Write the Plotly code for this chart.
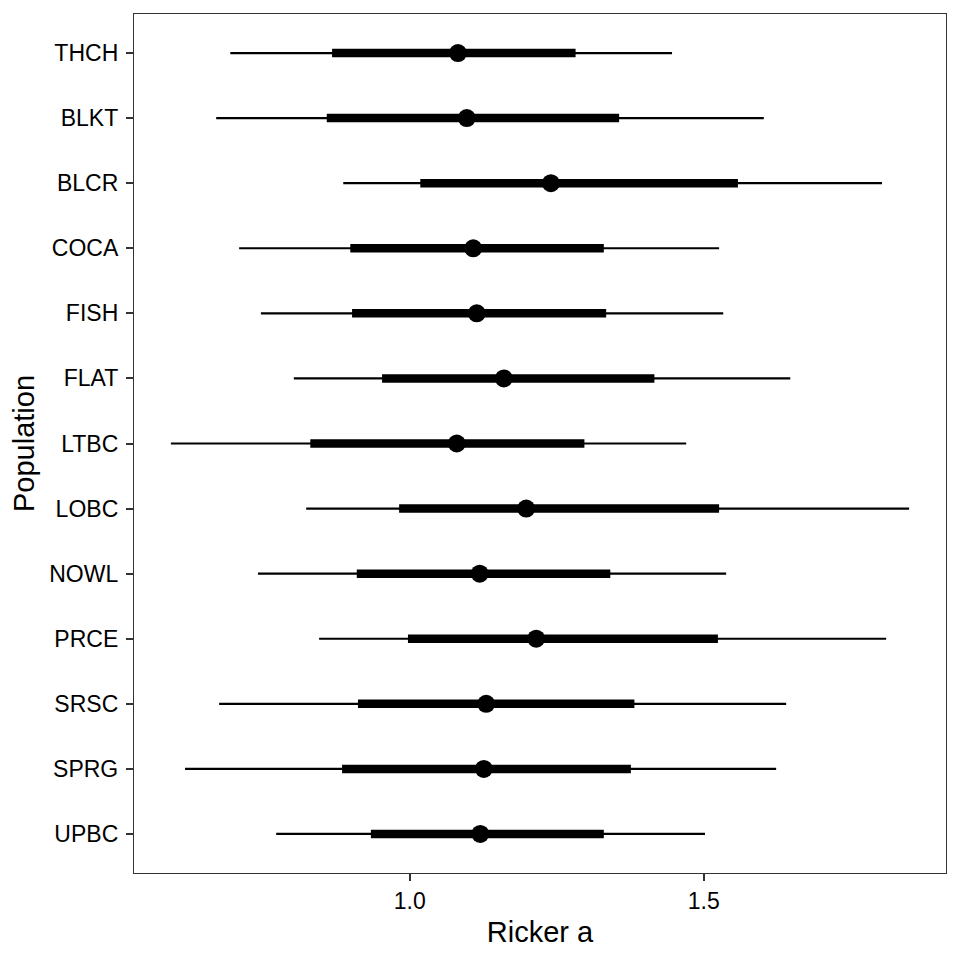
import plotly.graph_objects as go

populations = ["THCH", "BLKT", "BLCR", "COCA", "FISH", "FLAT", "LTBC",
               "LOBC", "NOWL", "PRCE", "SRSC", "SPRG", "UPBC"]
median = [1.082, 1.097, 1.240, 1.108, 1.114, 1.160, 1.080,
          1.198, 1.119, 1.215, 1.130, 1.126, 1.120]
inner_lo = [0.868, 0.859, 1.018, 0.899, 0.902, 0.953, 0.831,
            0.982, 0.910, 0.997, 0.912, 0.885, 0.934]
inner_hi = [1.282, 1.356, 1.558, 1.330, 1.334, 1.416, 1.297,
            1.526, 1.341, 1.524, 1.382, 1.376, 1.330]
outer_lo = [0.695, 0.671, 0.887, 0.710, 0.747, 0.803, 0.594,
            0.824, 0.742, 0.846, 0.676, 0.618, 0.773]
outer_hi = [1.446, 1.602, 1.803, 1.526, 1.533, 1.647, 1.470,
            1.849, 1.538, 1.810, 1.640, 1.623, 1.502]
x_ticks = [1.0, 1.5]
x_tick_labels = ["1.0", "1.5"]


def segs(lo, hi, cats):
    xs, ys = [], []
    for a, b, c in zip(lo, hi, cats):
        xs += [a, b, None]
        ys += [c, c, None]
    return xs, ys


fig = go.Figure()
xs, ys = segs(outer_lo, outer_hi, populations)
fig.add_trace(go.Scatter(x=xs, y=ys, mode="lines",
                         line=dict(color="black", width=2.2), hoverinfo="skip"))
xs, ys = segs(inner_lo, inner_hi, populations)
fig.add_trace(go.Scatter(x=xs, y=ys, mode="lines",
                         line=dict(color="black", width=8.5), hoverinfo="skip"))
fig.add_trace(go.Scatter(x=median, y=populations, mode="markers",
                         marker=dict(color="black", size=18)))

lo_all = min(outer_lo)
hi_all = max(outer_hi)
pad = (hi_all - lo_all) * 0.05

fig.update_layout(
    width=952, height=952,
    margin=dict(l=126, r=14, t=6, b=87),
    paper_bgcolor="white", plot_bgcolor="white",
    showlegend=False,
    font=dict(family="Liberation Sans, Arial, sans-serif", color="black"),
    xaxis=dict(
        range=[lo_all - pad, hi_all + pad],
        tickvals=x_ticks, ticktext=x_tick_labels,
        ticks="outside", ticklen=7, tickwidth=2, tickcolor="#333333",
        tickfont=dict(size=23, color="black"),
        showgrid=False, zeroline=False,
        showline=True, mirror=True, linecolor="#333333", linewidth=1.3,
        title=dict(text="Ricker a", font=dict(size=29, color="black"), standoff=8),
    ),
    yaxis=dict(
        type="category",
        categoryorder="array", categoryarray=populations[::-1],
        range=[-0.6, len(populations) - 0.4],
        ticks="outside", ticklen=7, tickwidth=2, tickcolor="#333333",
        tickfont=dict(size=23, color="black"),
        ticklabelstandoff=3,
        showgrid=False, zeroline=False,
        showline=True, mirror=True, linecolor="#333333", linewidth=1.3,
        title=dict(text="Population", font=dict(size=29, color="black"), standoff=8),
    ),
)

fig.write_html("out.html")
